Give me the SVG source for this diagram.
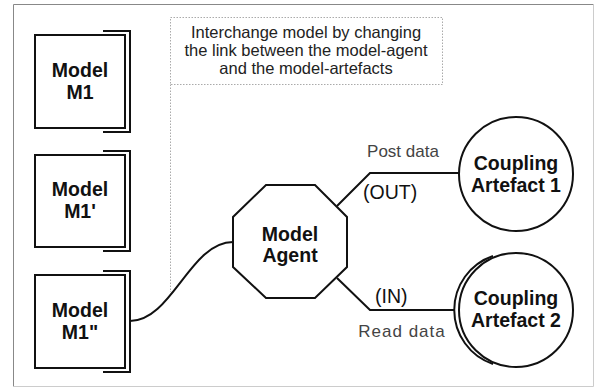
<svg xmlns="http://www.w3.org/2000/svg" width="595" height="388" viewBox="0 0 595 388">
<style>
text{font-family:"Liberation Sans",Arial,Helvetica,sans-serif;text-anchor:middle}
.b{font-weight:bold;font-size:19.5px;fill:#111}
.n{font-size:16.5px;fill:#222}
.lbl{font-size:17px;fill:#444}
.io{font-size:19.5px;fill:#111;text-anchor:start}
.sh{fill:#fff;stroke:#111;stroke-width:2}
.br{fill:none;stroke:#111;stroke-width:2}
.ln{fill:none;stroke:#111;stroke-width:2}
.dot{fill:none;stroke:#aaa;stroke-width:1;stroke-dasharray:1.5 1.5}
</style>
<rect x="0" y="0" width="595" height="388" fill="#fff"/>
<g id="frame">
<path d="M13.5,386.5 V4.5 H593.5" fill="none" stroke="#888" stroke-width="1"/>
<path d="M13.5,386.5 H593.5 V4.5" fill="none" stroke="#ccc" stroke-width="1"/>
</g>
<g id="note">
<rect class="dot" x="170.5" y="17.5" width="272" height="67"/>
<line class="dot" x1="170.5" y1="84.5" x2="170.5" y2="292"/>
<text class="n" x="306" y="38">Interchange model by changing</text>
<text class="n" x="306" y="56">the link between the model-agent</text>
<text class="n" x="306" y="74">and the model-artefacts</text>
</g>
<g id="connectors">
<path class="ln" d="M130,321 C172,321 190,242 233,242"/>
<path class="ln" d="M337,206 L370,173 H459"/>
<path class="ln" d="M337,278 L370,310 H455"/>
</g>
<g id="m1">
<rect class="sh" x="35" y="35" width="90" height="93"/>
<path class="br" d="M103,31 H130 V132 H103"/>
<text class="b" x="80" y="77">Model</text>
<text class="b" x="80" y="99">M1</text>
</g>
<g id="m1p">
<rect class="sh" x="35" y="155" width="90" height="92"/>
<path class="br" d="M103,151 H130 V251 H103"/>
<text class="b" x="80" y="196">Model</text>
<text class="b" x="80" y="218">M1'</text>
</g>
<g id="m1pp">
<rect class="sh" x="35" y="275" width="90" height="93"/>
<path class="br" d="M103,271 H130 V372 H103"/>
<text class="b" x="80" y="317">Model</text>
<text class="b" x="80" y="339">M1"</text>
</g>
<g id="agent">
<polygon class="sh" points="266,185 315,185 347,217 347,267 315,298 266,298 233,267 233,217"/>
<text class="b" x="290" y="241">Model</text>
<text class="b" x="290" y="262">Agent</text>
</g>
<g id="artefact1">
<circle class="sh" cx="516" cy="174" r="57"/>
<text class="b" x="516" y="170">Coupling</text>
<text class="b" x="516" y="192">Artefact 1</text>
</g>
<g id="artefact2">
<path class="ln" d="M493,256 A57,57 0 0,0 493,364"/>
<circle class="sh" cx="516" cy="310" r="57"/>
<text class="b" x="516" y="305">Coupling</text>
<text class="b" x="516" y="327">Artefact 2</text>
</g>
<g id="labels">
<text class="lbl" x="403" y="157">Post data</text>
<text class="io" x="363" y="199">(OUT)</text>
<text class="io" x="375" y="303">(IN)</text>
<text class="lbl" x="402" y="337" style="letter-spacing:1px">Read data</text>
</g>
</svg>
